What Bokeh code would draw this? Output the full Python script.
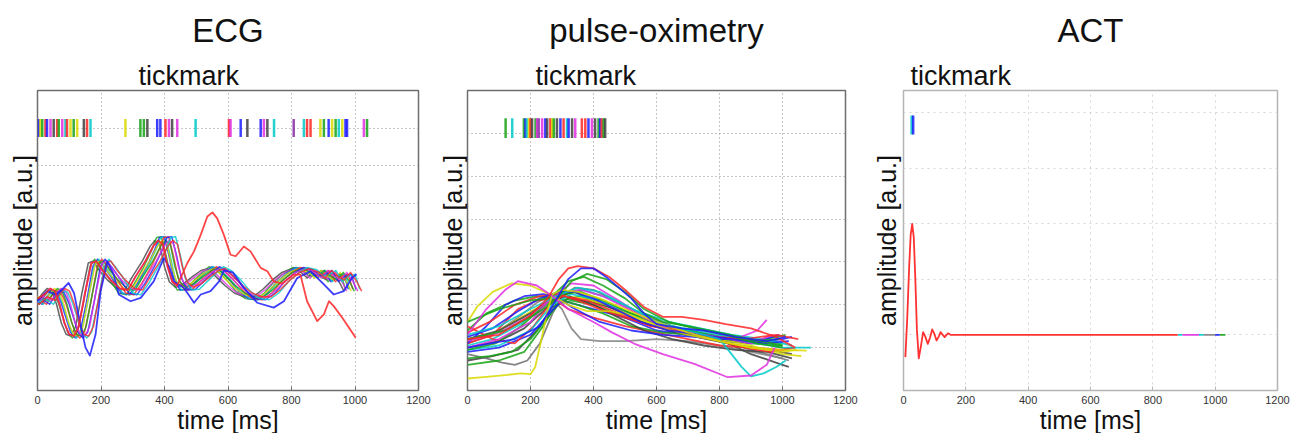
from bokeh.plotting import figure
from bokeh.layouts import row
from bokeh.models import Title, Range1d, FixedTicker, ColumnDataSource
from bokeh.embed import file_html
from bokeh.resources import INLINE

# ---------------- colours (MATLAB-like) ----------------
B = "#1c1cff"; G = "#16a316"; R = "#ff2626"; C = "#00c9c9"
M = "#e02ee0"; Y = "#d9d900"; K = "#404040"; P = "#8a2aa8"

# ---------------- axes data ----------------
time_ticks = [0, 200, 400, 600, 800, 1000, 1200]
ecg_levels = [1, 2, 3, 4, 5, 6, 7]
pulse_levels = [1, 2, 3, 4, 5, 6]
act_levels = [1, 2, 3, 4, 5]

# ---------------- ECG ----------------
ecg_tick_ms = [4, 9, 15, 25, 30, 41, 51, 62, 67, 78, 88, 93, 104, 114, 125, 146, 156, 167,
               277, 324, 335, 346, 377, 387, 403, 414, 424, 440, 498, 603, 608, 640, 661,
               703, 713, 724, 745, 807, 839, 849, 860, 891, 902, 917, 928, 939, 949, 960,
               970, 975, 1028, 1038]
ecg_tick_colors = [B, Y, G, R, B, M, K, R, G, M, C, R, Y, G, Y, K, R, C, Y, G, G, K, B, B, R,
                   M, K, M, C, R, M, B, K, B, M, K, C, P, C, R, R, Y, G, B, Y, G, C, Y, B, B,
                   M, G]
ecg_tick_level = 7

# two wave shapes shared by the bundle of ECG beats (each beat read with its own delay)
ecg_template_ms = [-80, -50, -25, 0, 15, 30, 45, 60, 75, 90, 105, 120, 140, 160, 175, 195, 220,
                   250, 275, 300, 330, 355, 370, 385, 400, 415, 435, 460, 490, 515, 535, 560,
                   590, 620, 650, 680, 710, 740, 770, 800, 830, 850, 870, 890, 910, 930, 950, 965]
ecg_shape_a_amp = [2.4, 2.3, 2.5, 2.4, 2.58, 2.72, 2.65, 2.3, 1.8, 1.5, 1.45, 1.7, 2.6, 3.4,
                   3.45, 3.2, 2.95, 2.72, 2.68, 3.05, 3.45, 3.85, 4.0, 3.9, 3.3, 2.9, 2.75,
                   2.85, 3.05, 3.2, 3.25, 3.05, 2.8, 2.6, 2.5, 2.5, 2.7, 2.95, 3.15, 3.25,
                   3.15, 3.0, 3.2, 3.05, 2.95, 3.15, 2.9, 2.65]
ecg_shape_b_amp = [2.3, 2.35, 2.45, 2.3, 2.5, 2.66, 2.62, 2.35, 1.95, 1.55, 1.4, 1.55, 2.35, 3.3,
                   3.5, 3.3, 3.0, 2.6, 2.55, 2.85, 3.3, 3.75, 4.08, 4.1, 3.6, 3.0, 2.68,
                   2.7, 2.95, 3.15, 3.3, 3.2, 2.95, 2.65, 2.45, 2.42, 2.6, 2.9, 3.12, 3.28,
                   3.22, 3.05, 3.1, 3.2, 2.9, 3.05, 3.1, 2.7]
ecg_beat_delay_ms = [0, 5, 9, 14, 18, 23, 28, 33, 38, 44, 50, 56]
ecg_beat_shape = ["a", "b", "a", "b", "b", "a", "b", "a", "b", "a", "b", "a"]
ecg_beat_colors = [K, G, M, B, C, Y, R, G, B, M, C, R]

ecg_blue_ms = [0, 30, 60, 83, 98, 115, 135, 151, 165, 183, 199, 220, 240, 256, 293, 325, 366,
               398, 415, 429, 461, 493, 514, 545, 572, 587, 615, 650, 692, 744, 776, 818, 860,
               902, 933, 965, 990, 1005]
ecg_blue_amp = [2.4, 2.65, 2.55, 2.74, 2.87, 2.6, 1.77, 1.15, 0.93, 1.5, 2.65, 3.44, 3.09, 2.56,
                2.38, 2.47, 2.91, 3.53, 3.3, 2.91, 2.74, 2.34, 2.56, 2.65, 2.91, 3.2, 3.15,
                2.74, 2.34, 2.21, 2.38, 3.0, 3.18, 2.83, 2.56, 2.65, 3.0, 3.1]

ecg_red_ms = [0, 25, 40, 55, 70, 85, 100, 115, 130, 150, 170, 185, 205, 230, 260, 285, 310, 340,
              365, 380, 395, 410, 425, 440, 472, 493, 514, 535, 551, 566, 587, 608, 624, 650,
              671, 703, 724, 744, 770, 807, 828, 849, 881, 902, 918, 933, 960, 1002]
ecg_red_amp = [2.45, 2.58, 2.72, 2.65, 2.3, 1.8, 1.5, 1.45, 1.7, 2.6, 3.4, 3.45, 3.2, 2.95, 2.72,
               2.68, 3.05, 3.45, 3.85, 4.0, 3.9, 3.3, 2.9, 2.8, 3.4, 3.71, 4.15, 4.64, 4.75,
               4.59, 4.15, 3.62, 3.58, 3.84, 3.71, 3.27, 3.18, 2.91, 2.85, 3.09, 3.09, 2.38,
               1.85, 2.03, 2.38, 2.25, 1.94, 1.41]

# ---------------- pulse-oximetry ----------------
pulse_tick_ms = [121, 142, 179, 184, 189, 195, 200, 205, 216, 221, 226, 237, 247, 253, 263, 269,
                 274, 284, 295, 305, 316, 321, 332, 342, 363, 374, 384, 395, 405, 416, 421,
                 426, 432, 437]
pulse_tick_colors = [G, C, G, B, C, Y, R, K, G, M, P, M, B, K, R, Y, G, K, B, R, C, B, K, M, R,
                     R, B, M, K, G, B, R, G, K]
pulse_tick_level = 6.12

pulse_magenta_low_ms = [0, 60, 120, 160, 220, 270, 320, 400, 460, 530, 620, 720, 826, 900, 950, 975]
pulse_magenta_low_amp = [1.3, 1.9, 2.35, 2.55, 2.45, 2.2, 1.9, 1.6, 1.35, 1.09, 0.85, 0.62, 0.31, 0.35, 0.6, 1.0]
pulse_yellow_low_ms = [0, 60, 120, 170, 200, 215, 235, 255, 270, 300, 350, 420, 500, 600, 700, 800, 900, 1000, 1077]
pulse_yellow_low_amp = [0.28, 0.32, 0.36, 0.4, 0.38, 0.55, 1.2, 1.9, 2.25, 2.35, 2.3, 2.15, 1.9, 1.6, 1.35, 1.15, 1.0, 0.95, 0.93]
pulse_yellow_high_ms = [0, 30, 80, 140, 200, 260, 320, 380, 450, 520, 600, 700, 800, 900, 1000, 1045]
pulse_yellow_high_amp = [1.6, 1.95, 2.3, 2.5, 2.45, 2.25, 2.0, 1.85, 1.85, 1.75, 1.5, 1.3, 1.15, 1.0, 0.9, 0.95]
pulse_red_top_ms = [0, 100, 200, 255, 290, 320, 350, 400, 450, 500, 560, 620, 680, 750, 820, 900, 980, 1040]
pulse_red_top_amp = [1.2, 1.3, 1.75, 2.15, 2.6, 2.85, 2.9, 2.85, 2.65, 2.35, 1.95, 1.72, 1.72, 1.65, 1.55, 1.45, 1.25, 1.0]
pulse_blue_top_ms = [0, 150, 230, 280, 320, 360, 400, 440, 480, 520, 560, 600, 680, 750, 850, 950, 1010]
pulse_blue_top_amp = [1.0, 1.2, 1.5, 2.1, 2.6, 2.85, 2.85, 2.65, 2.4, 2.15, 1.8, 1.55, 1.45, 1.4, 1.25, 1.15, 1.25]
pulse_green_top_ms = [0, 100, 200, 260, 320, 370, 430, 500, 560, 620, 700, 800, 900, 1000]
pulse_green_top_amp = [1.6, 1.9, 2.1, 2.15, 2.55, 2.65, 2.45, 2.15, 1.8, 1.6, 1.5, 1.35, 1.2, 1.05]
pulse_grey_low_ms = [0, 60, 110, 150, 190, 230, 270, 300, 340, 400, 480, 560, 650, 750, 850, 950, 1020]
pulse_grey_low_amp = [0.85, 0.75, 0.65, 0.6, 0.7, 1.1, 1.8, 2.2, 2.4, 2.35, 2.05, 1.75, 1.5, 1.3, 1.05, 0.85, 0.7]
pulse_grey_dip_ms = [0, 80, 160, 220, 260, 300, 330, 360, 420, 500, 600, 700, 800, 900, 1000]
pulse_grey_dip_amp = [1.1, 1.3, 1.7, 2.05, 2.2, 1.9, 1.45, 1.2, 1.15, 1.15, 1.2, 1.15, 1.05, 0.9, 0.75]
pulse_cyan_dip_ms = [0, 100, 200, 280, 350, 420, 500, 600, 700, 800, 837, 870, 900, 940, 980, 1010]
pulse_cyan_dip_amp = [1.3, 1.5, 1.9, 2.2, 2.4, 2.3, 2.0, 1.6, 1.4, 1.2, 0.86, 0.55, 0.33, 0.4, 0.55, 0.7]
pulse_green_low_ms = [0, 100, 180, 240, 280, 330, 400, 500, 600, 700, 800, 900, 1000]
pulse_green_low_amp = [0.6, 0.7, 0.9, 1.5, 2.0, 2.1, 2.0, 1.7, 1.5, 1.3, 1.2, 1.1, 1.05]
pulse_blue_low_ms = [0, 100, 200, 260, 300, 400, 500, 600, 700, 800, 900, 1000, 1030]
pulse_blue_low_amp = [0.9, 1.0, 1.3, 1.8, 2.1, 1.9, 1.7, 1.4, 1.3, 1.15, 1.1, 1.2, 1.25]
pulse_red_mid_ms = [0, 80, 160, 220, 270, 320, 400, 500, 600, 700, 800, 900, 1000, 1040]
pulse_red_mid_amp = [1.1, 1.3, 1.9, 2.1, 2.15, 1.9, 1.7, 1.5, 1.35, 1.2, 1.05, 1.0, 0.95, 1.0]
pulse_magenta_mid_ms = [0, 100, 200, 270, 330, 400, 480, 560, 650, 750, 850, 920, 950]
pulse_magenta_mid_amp = [1.0, 1.2, 1.6, 2.2, 2.5, 2.45, 2.1, 1.7, 1.4, 1.3, 1.2, 1.4, 1.65]
pulse_green_mid_ms = [0, 60, 150, 220, 280, 350, 430, 520, 620, 720, 820, 920, 1000]
pulse_green_mid_amp = [1.4, 1.8, 2.1, 2.2, 2.15, 2.0, 1.8, 1.5, 1.35, 1.3, 1.2, 1.15, 1.1]
pulse_black_mid_ms = [0, 100, 200, 260, 320, 400, 480, 560, 650, 750, 850, 950, 1030]
pulse_black_mid_amp = [1.2, 1.4, 1.8, 2.1, 2.2, 2.0, 1.7, 1.4, 1.2, 1.05, 0.95, 0.9, 0.75]
pulse_blue_early_ms = [0, 60, 120, 180, 240, 280, 330, 420, 520, 620, 720, 820, 920, 990]
pulse_blue_early_amp = [1.1, 1.5, 2.0, 2.2, 2.25, 2.2, 1.95, 1.6, 1.4, 1.3, 1.25, 1.2, 1.15, 1.3]
pulse_red_low_ms = [0, 80, 150, 210, 260, 300, 380, 480, 580, 680, 780, 880, 960, 1030]
pulse_red_low_amp = [1.5, 1.2, 1.1, 1.5, 2.0, 2.2, 2.1, 1.8, 1.5, 1.4, 1.2, 1.0, 0.9, 1.0]
pulse_cyan_flat_ms = [0, 100, 200, 270, 330, 420, 520, 620, 720, 820, 920, 1000, 1050, 1090]
pulse_cyan_flat_amp = [0.95, 1.05, 1.4, 2.0, 2.25, 2.1, 1.8, 1.55, 1.4, 1.25, 1.1, 1.0, 1.0, 1.0]
pulse_green_second_ms = [0, 120, 220, 280, 330, 380, 440, 500, 560, 640, 720, 820, 920, 1000]
pulse_green_second_amp = [1.2, 1.4, 1.8, 2.1, 2.55, 2.72, 2.6, 2.3, 1.9, 1.6, 1.45, 1.3, 1.1, 1.0]
pulse_black_low_ms = [0, 80, 160, 220, 270, 320, 400, 500, 600, 700, 800, 900, 1000, 1020]
pulse_black_low_amp = [0.7, 0.8, 0.95, 1.4, 1.95, 2.15, 2.05, 1.85, 1.6, 1.4, 1.2, 0.85, 0.6, 0.55]
pulse_blue_mid_ms = [0, 80, 160, 230, 290, 340, 400, 470, 550, 640, 740, 840, 940, 1020]
pulse_blue_mid_amp = [1.25, 1.45, 1.85, 2.15, 2.3, 2.3, 2.15, 1.9, 1.6, 1.4, 1.3, 1.2, 1.1, 1.15]
pulse_green_mid2_ms = [0, 90, 170, 240, 300, 360, 430, 520, 610, 700, 800, 900, 990]
pulse_green_mid2_amp = [0.95, 1.1, 1.5, 1.95, 2.25, 2.3, 2.1, 1.8, 1.55, 1.4, 1.25, 1.15, 1.2]
pulse_red_mid2_ms = [0, 70, 150, 230, 290, 350, 420, 500, 590, 680, 780, 880, 980, 1050]
pulse_red_mid2_amp = [1.35, 1.6, 2.0, 2.2, 2.25, 2.1, 1.9, 1.7, 1.5, 1.35, 1.25, 1.2, 1.3, 1.2]
pulse_magenta_mid2_ms = [0, 100, 190, 250, 300, 360, 430, 510, 600, 700, 800, 900, 970]
pulse_magenta_mid2_amp = [1.15, 1.35, 1.7, 2.05, 2.3, 2.35, 2.2, 1.9, 1.6, 1.4, 1.25, 1.1, 1.3]
pulse_cyan_mid_ms = [0, 80, 170, 240, 300, 370, 450, 540, 640, 740, 840, 940, 1030]
pulse_cyan_mid_amp = [1.05, 1.2, 1.55, 2.0, 2.3, 2.35, 2.15, 1.85, 1.6, 1.45, 1.3, 1.2, 1.05]
pulse_black_mid2_ms = [0, 100, 180, 240, 290, 340, 400, 480, 570, 660, 760, 860, 960, 1030]
pulse_black_mid2_amp = [1.0, 1.15, 1.45, 1.85, 2.2, 2.3, 2.1, 1.85, 1.55, 1.35, 1.2, 1.05, 0.95, 0.85]
pulse_yellow_mid_ms = [0, 90, 180, 250, 310, 370, 440, 520, 610, 700, 800, 900, 1000, 1060]
pulse_yellow_mid_amp = [1.15, 1.35, 1.75, 2.05, 2.2, 2.15, 2.0, 1.75, 1.5, 1.35, 1.2, 1.05, 0.85, 0.8]
pulse_green_low2_ms = [0, 70, 140, 200, 260, 300, 360, 430, 520, 620, 720, 820, 920, 1010]
pulse_green_low2_amp = [0.75, 0.8, 0.9, 1.2, 1.75, 2.1, 2.2, 2.0, 1.75, 1.5, 1.35, 1.25, 1.15, 1.3]

# ---------------- ACT ----------------
act_tick_ms = [26, 31]
act_tick_colors = [C, B]
act_tick_level = 4.78
act_red_ms = [6, 12, 18, 23, 28, 33, 38, 43, 49, 56, 63, 70, 78, 85, 92, 99, 106, 113, 119, 126,
              132, 138, 143, 152, 162, 300, 500, 700, 880]
act_red_amp = [0.6, 1.3, 2.2, 2.8, 3.0, 2.75, 2.0, 1.1, 0.58, 0.8, 1.05, 0.97, 0.84, 0.95, 1.1,
               1.02, 0.9, 0.97, 1.05, 1.0, 0.96, 1.0, 1.03, 1.0, 1.0, 1.0, 1.0, 1.0, 1.0]
act_tail_start_ms = [880, 895, 948, 963, 1000, 1015]
act_tail_end_ms = [895, 948, 963, 1000, 1015, 1033]
act_tail_colors = [C, M, C, "#808080", B, G]
act_tail_amp = 1.0

FONT = "Liberation Sans"
TXT = "#111111"
HEIGHT = 433


def panel(width, ymax, levels, left, right, name, tick_offset, ylab_standoff,
          grid_color, grid_dash, frame_color):
    p = figure(width=width, height=HEIGHT, x_range=Range1d(0, 1200), y_range=Range1d(0, ymax),
               output_backend="svg", toolbar_location=None, title=None,
               min_border_left=left, min_border_right=right, min_border_top=88,
               min_border_bottom=43, background_fill_color="white", border_fill_color="white")
    p.yaxis.visible = False
    p.ygrid.ticker = FixedTicker(ticks=levels)
    p.xaxis.ticker = FixedTicker(ticks=time_ticks)
    p.xaxis.minor_tick_line_color = None
    p.xaxis.axis_line_color = None
    p.xaxis.major_tick_in = 4
    p.xaxis.major_tick_out = 0
    p.xaxis.major_tick_line_color = frame_color
    p.xaxis.major_label_text_font = FONT
    p.xaxis.major_label_text_font_size = "11px"
    p.xaxis.major_label_text_color = "#333333"
    p.xaxis.major_label_standoff = 5
    p.grid.grid_line_color = grid_color
    p.grid.grid_line_dash = grid_dash
    p.grid.grid_line_width = 1
    p.outline_line_color = frame_color
    p.outline_line_width = 1.5

    p.add_layout(Title(text="tickmark", align="left", offset=tick_offset, standoff=0,
                       text_font=FONT, text_font_size="27px", text_font_style="normal",
                       text_color=TXT), "above")
    p.add_layout(Title(text=name, align="center", standoff=19, text_font=FONT,
                       text_font_size="33px", text_font_style="normal",
                       text_color=TXT), "above")
    p.add_layout(Title(text="time [ms]", align="center", offset=12, standoff=-6,
                       text_font=FONT, text_font_size="25px", text_font_style="normal",
                       text_color=TXT), "below")
    p.add_layout(Title(text="amplitude [a.u.]", align="center", offset=6,
                       standoff=ylab_standoff, text_font=FONT, text_font_size="25px",
                       text_font_style="normal", text_color=TXT), "left")
    return p


def tick_bars(p, times, colors, level, half):
    src = ColumnDataSource(dict(t=times, lo=[level - half] * len(times),
                                hi=[level + half] * len(times), c=colors))
    p.segment(x0="t", y0="lo", x1="t", y1="hi", line_color="c", line_width=2.5,
              line_alpha=0.85, source=src)


LW = 1.8
AL = 0.85

# ECG panel
p1 = panel(436, 8, ecg_levels, 37, 18, "ECG", 101, 1, "#8f8f8f", "1 3", "#6e6e6e")
tick_bars(p1, ecg_tick_ms, ecg_tick_colors, ecg_tick_level, 0.24)
for delay, shape, col in zip(ecg_beat_delay_ms, ecg_beat_shape, ecg_beat_colors):
    amp = ecg_shape_a_amp if shape == "a" else ecg_shape_b_amp
    p1.line([t + delay for t in ecg_template_ms], amp, line_color=col,
            line_width=1.5, line_alpha=0.8, line_join="round")
p1.line(ecg_blue_ms, ecg_blue_amp, line_color=B, line_width=LW, line_alpha=AL, line_join="round")
p1.line(ecg_red_ms, ecg_red_amp, line_color=R, line_width=LW, line_alpha=AL, line_join="round")

# pulse-oximetry panel
p2 = panel(432, 7, pulse_levels, 29, 23, "pulse-oximetry", 68, 1, "#8f8f8f", "1 3", "#6e6e6e")
tick_bars(p2, pulse_tick_ms, pulse_tick_colors, pulse_tick_level, 0.23)
pulse_curves = [
    (pulse_black_low_ms, pulse_black_low_amp, K),
    (pulse_grey_low_ms, pulse_grey_low_amp, "#707070"),
    (pulse_grey_dip_ms, pulse_grey_dip_amp, "#808080"),
    (pulse_green_low_ms, pulse_green_low_amp, G),
    (pulse_green_low2_ms, pulse_green_low2_amp, G),
    (pulse_blue_low_ms, pulse_blue_low_amp, B),
    (pulse_red_mid_ms, pulse_red_mid_amp, R),
    (pulse_black_mid2_ms, pulse_black_mid2_amp, K),
    (pulse_yellow_mid_ms, pulse_yellow_mid_amp, Y),
    (pulse_green_mid_ms, pulse_green_mid_amp, G),
    (pulse_cyan_mid_ms, pulse_cyan_mid_amp, C),
    (pulse_black_mid_ms, pulse_black_mid_amp, K),
    (pulse_blue_early_ms, pulse_blue_early_amp, B),
    (pulse_magenta_mid2_ms, pulse_magenta_mid2_amp, M),
    (pulse_red_low_ms, pulse_red_low_amp, R),
    (pulse_cyan_flat_ms, pulse_cyan_flat_amp, C),
    (pulse_green_mid2_ms, pulse_green_mid2_amp, G),
    (pulse_magenta_mid_ms, pulse_magenta_mid_amp, M),
    (pulse_red_mid2_ms, pulse_red_mid2_amp, R),
    (pulse_yellow_high_ms, pulse_yellow_high_amp, Y),
    (pulse_blue_mid_ms, pulse_blue_mid_amp, B),
    (pulse_cyan_dip_ms, pulse_cyan_dip_amp, C),
    (pulse_green_top_ms, pulse_green_top_amp, G),
    (pulse_green_second_ms, pulse_green_second_amp, G),
    (pulse_yellow_low_ms, pulse_yellow_low_amp, Y),
    (pulse_magenta_low_ms, pulse_magenta_low_amp, M),
    (pulse_red_top_ms, pulse_red_top_amp, R),
    (pulse_blue_top_ms, pulse_blue_top_amp, B),
]
for xs, ys, col in pulse_curves:
    p2.line(xs, ys, line_color=col, line_width=LW, line_alpha=AL, line_join="round")

# ACT panel
p3 = panel(426, 5.4, act_levels, 35, 17, "ACT", 7, 5, "#d6d6d6", "2 4", "#b5b5b5")
tick_bars(p3, act_tick_ms, act_tick_colors, act_tick_level, 0.17)
p3.segment(x0=act_tail_start_ms, y0=[act_tail_amp] * len(act_tail_end_ms),
           x1=act_tail_end_ms, y1=[act_tail_amp] * len(act_tail_end_ms),
           line_color=act_tail_colors, line_width=LW, line_alpha=0.9)
p3.line(act_red_ms, act_red_amp, line_color=R, line_width=LW, line_alpha=0.95, line_join="round")

layout = row(p1, p2, p3, spacing=0)
open("out.html", "w").write(file_html(layout, INLINE))
